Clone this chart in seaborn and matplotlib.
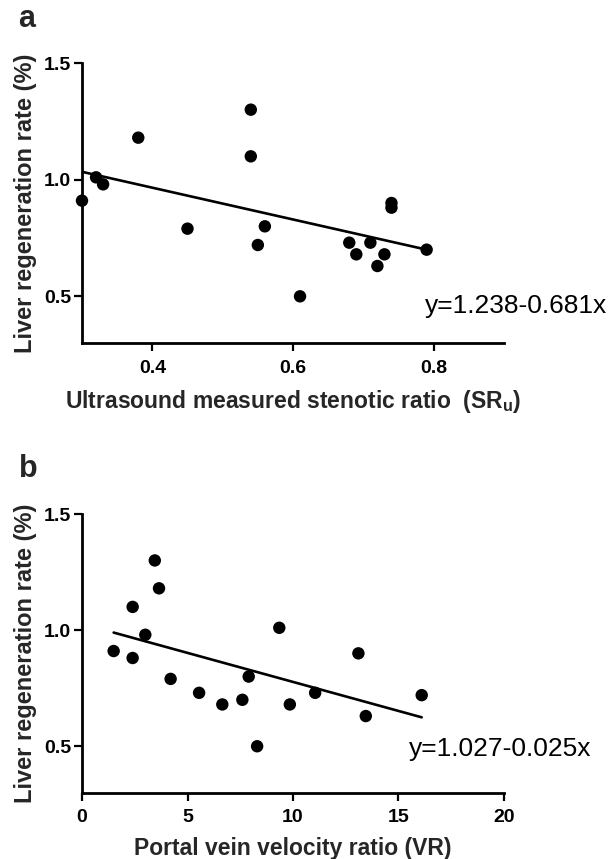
import numpy as np
import pandas as pd
import matplotlib
matplotlib.use("Agg")
import matplotlib.pyplot as plt
import seaborn as sns

# ---- data ----
sr_u = [0.30, 0.32, 0.33, 0.38, 0.45, 0.54, 0.54, 0.56, 0.55, 0.61,
        0.68, 0.69, 0.71, 0.72, 0.73, 0.74, 0.74, 0.79]
lrr_a = [0.91, 1.01, 0.98, 1.18, 0.79, 1.30, 1.10, 0.80, 0.72, 0.50,
         0.73, 0.68, 0.73, 0.63, 0.68, 0.90, 0.88, 0.70]
vr = [1.5, 2.4, 2.4, 3.0, 3.45, 3.65, 4.2, 5.55, 6.65, 7.6,
      7.9, 8.3, 9.35, 9.85, 11.05, 13.1, 13.45, 16.1]
lrr_b = [0.91, 1.10, 0.88, 0.98, 1.30, 1.18, 0.79, 0.73, 0.68, 0.70,
         0.80, 0.50, 1.01, 0.68, 0.73, 0.90, 0.63, 0.72]
fit_a = (1.238, -0.681)
fit_b = (1.027, -0.025)
eq_a = "y=1.238-0.681x"
eq_b = "y=1.027-0.025x"
xticks_a = [0.4, 0.6, 0.8]
xticks_b = [0, 5, 10, 15, 20]
yticks = [0.5, 1.0, 1.5]

sns.set_style("ticks")
plt.rcParams['font.family'] = ['Liberation Sans', 'DejaVu Sans']
plt.rcParams['mathtext.fontset'] = 'custom'
plt.rcParams['mathtext.bf'] = 'Liberation Sans:bold'
plt.rcParams['mathtext.rm'] = 'Liberation Sans'
plt.rcParams['mathtext.default'] = 'bf'

fig = plt.figure(figsize=(6.14, 8.59), dpi=100)
ax_a = fig.add_axes([82/614, 1-343/859, 422/614, 280/859])
ax_b = fig.add_axes([82/614, 1-792.7/859, 422/614, 278.7/859])

def panel(ax, x, y, fit, xlim, xticks, xlabel, eq, eq_pos):
    df = pd.DataFrame({"x": x, "y": y})
    sns.scatterplot(data=df, x="x", y="y", ax=ax, color="black", s=80,
                    edgecolor="none", zorder=3, clip_on=False)
    xs = np.array([min(x), max(x)])
    line = pd.DataFrame({"x": xs, "y": fit[0] + fit[1] * xs})
    sns.lineplot(data=line, x="x", y="y", ax=ax, color="black", lw=1.9)
    ax.set_xlim(*xlim)
    ax.set_ylim(0.3, 1.5)
    ax.set_xticks(xticks)
    ax.set_yticks(yticks)
    ax.set_yticklabels([f"{v:.1f}" for v in yticks])
    ax.set_xticklabels([f"{v:g}" for v in xticks])
    sns.despine(ax=ax)
    for s in ("left", "bottom"):
        ax.spines[s].set_linewidth(2.0)
        ax.spines[s].set_color("black")
    ax.tick_params(axis="both", length=6, width=1.6, color="black",
                   labelsize=14, labelcolor="black")
    ax.tick_params(axis="x", pad=6)
    ax.tick_params(axis="y", pad=2)
    for lab in ax.get_xticklabels() + ax.get_yticklabels():
        lab.set_fontweight("bold")
    ax.set_xlabel(xlabel, fontsize=16.5, fontweight="bold", va="top")
    ax.set_ylabel("Liver regeneration rate (%)", fontsize=17,
                  fontweight="bold")
    ax.yaxis.set_label_coords(-0.107, 0.5)
    fig.text(eq_pos[0], eq_pos[1], eq, fontsize=19, ha="left",
             va="baseline", color="black")

panel(ax_a, sr_u, lrr_a, fit_a, (0.3, 0.9), xticks_a,
      "Ultrasound measured stenotic ratio  (SR$_u$)", eq_a,
      (425/614, 1-313/859))
ax_a.xaxis.set_label_coords(0.5, -0.161)
panel(ax_b, vr, lrr_b, fit_b, (0, 20), xticks_b,
      "Portal vein velocity ratio (VR)", eq_b,
      (409/614, 1-756/859))
ax_b.xaxis.set_label_coords(0.5, -0.159)

fig.text(18/614, 1-27/859, "a", fontsize=22, fontweight="bold",
         ha="left", va="baseline")
fig.text(19/614, 1-477/859, "b", fontsize=22, fontweight="bold",
         ha="left", va="baseline")

fig.savefig("out.png", dpi=100)
